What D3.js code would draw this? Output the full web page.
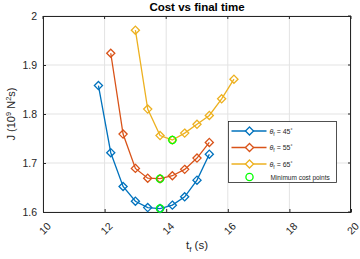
<!DOCTYPE html>
<html>
<head>
<meta charset="utf-8">
<script src="https://cdn.jsdelivr.net/npm/d3@7"></script>
<style>
  body { margin: 0; background: #fff; }
  text { font-family: "Liberation Sans", Arial, sans-serif; fill: #262626; }
</style>
</head>
<body>
<svg width="360" height="259"></svg>
<script>
var svg = d3.select('svg');
var padding = { t: 16, r: 9, b: 47, l: 43 };
var chartWidth = 360 - padding.l - padding.r;
var chartHeight = 259 - padding.t - padding.b;

// data
var tf45 = [11.8, 12.2, 12.6, 13.0, 13.4, 13.8, 14.2, 14.6, 15.0, 15.4];
var J45 = [1.858, 1.721, 1.652, 1.622, 1.609, 1.607, 1.614, 1.631, 1.665, 1.718];
var tf55 = [12.2, 12.6, 13.0, 13.4, 13.8, 14.2, 14.6, 15.0, 15.4];
var J55 = [1.924, 1.759, 1.689, 1.669, 1.668, 1.674, 1.687, 1.710, 1.742];
var tf65 = [13.0, 13.4, 13.8, 14.2, 14.6, 15.0, 15.4, 15.8, 16.2];
var J65 = [1.971, 1.810, 1.756, 1.747, 1.761, 1.779, 1.797, 1.831, 1.871];
var minTf = [13.8, 13.8, 14.2];
var minJ = [1.607, 1.668, 1.747];
var xTicks = [10, 12, 14, 16, 18, 20];
var yTicks = [1.6, 1.7, 1.8, 1.9, 2];
var seriesNames = ['45', '55', '65'];
var colors = ['#0072BD', '#D95319', '#EDB120'];

var xScale = d3.scaleLinear().domain([10, 20]).range([0, chartWidth]);
var yScale = d3.scaleLinear().domain([1.6, 2]).range([chartHeight, 0]);

var chartG = svg.append('g')
  .attr('transform', 'translate(' + [padding.l, padding.t] + ')');

// grid
chartG.selectAll('.gx').data(xTicks).enter().append('line')
  .attr('x1', d => xScale(d)).attr('x2', d => xScale(d))
  .attr('y1', 0).attr('y2', chartHeight)
  .style('stroke', '#e3e3e3').style('stroke-width', 1);
chartG.selectAll('.gy').data(yTicks).enter().append('line')
  .attr('y1', d => yScale(d)).attr('y2', d => yScale(d))
  .attr('x1', 0).attr('x2', chartWidth)
  .style('stroke', '#e3e3e3').style('stroke-width', 1);

// axes
var xAxisG = chartG.append('g')
  .attr('transform', 'translate(0,' + chartHeight + ')')
  .call(d3.axisBottom(xScale).tickValues(xTicks).tickSizeInner(-3).tickSizeOuter(0).tickFormat(d3.format('d')));
xAxisG.selectAll('text')
  .attr('transform', 'translate(1.5,16.5) rotate(-45)')
  .attr('text-anchor', 'middle')
  .attr('x', 0).attr('y', 0).attr('dy', '0.35em');
var yAxisG = chartG.append('g')
  .call(d3.axisLeft(yScale).tickValues(yTicks).tickSizeInner(-3).tickSizeOuter(0).tickFormat(d => d3.format('')(d)));
yAxisG.selectAll('text').attr('x', -6);
[xAxisG, yAxisG].forEach(function(g) {
  g.select('.domain').style('stroke', '#262626');
  g.selectAll('.tick line').style('stroke', '#262626');
  g.selectAll('text').style('font-size', '10.5px').style('fill', '#262626')
    .style('font-family', '"Liberation Sans", Arial, sans-serif');
});
// box
chartG.append('line').attr('x1', 0).attr('x2', chartWidth).attr('y1', 0.5).attr('y2', 0.5)
  .style('stroke', '#262626');
chartG.append('line').attr('x1', chartWidth - 0.5).attr('x2', chartWidth - 0.5).attr('y1', 0).attr('y2', chartHeight)
  .style('stroke', '#262626');
xTicks.forEach(function(t) {
  chartG.append('line').attr('x1', xScale(t)).attr('x2', xScale(t)).attr('y1', 0).attr('y2', 3)
    .style('stroke', '#262626');
});
yTicks.forEach(function(t) {
  chartG.append('line').attr('x1', chartWidth).attr('x2', chartWidth - 3).attr('y1', yScale(t)).attr('y2', yScale(t))
    .style('stroke', '#262626');
});

// series
var series = [
  { tf: tf45, J: J45 },
  { tf: tf55, J: J55 },
  { tf: tf65, J: J65 }
];
var line = d3.line().x(d => xScale(d[0])).y(d => yScale(d[1]));
var diamond = d3.symbol().type(d3.symbolDiamond2).size(42);
series.forEach(function(s, i) {
  var pts = s.tf.map((t, k) => [t, s.J[k]]);
  chartG.append('path').datum(pts)
    .attr('d', line)
    .style('fill', 'none').style('stroke', colors[i]).style('stroke-width', 1.3);
  chartG.selectAll('.m' + i).data(pts).enter().append('path')
    .attr('d', diamond)
    .attr('transform', d => 'translate(' + [xScale(d[0]), yScale(d[1])] + ')')
    .style('fill', 'none').style('stroke', colors[i]).style('stroke-width', 1.3);
});
chartG.selectAll('.minpt').data(minTf).enter().append('circle')
  .attr('cx', d => xScale(d))
  .attr('cy', (d, i) => yScale(minJ[i]))
  .attr('r', 3.6)
  .style('fill', 'none').style('stroke', '#00FF00').style('stroke-width', 1.3);

// title and labels
svg.append('text').text('Cost vs final time')
  .attr('x', padding.l + chartWidth / 2).attr('y', 10.5)
  .attr('text-anchor', 'middle')
  .style('font-size', '11.5px').style('font-weight', 'bold').style('fill', '#000');

var xl = svg.append('text')
  .attr('x', padding.l + chartWidth / 2).attr('y', 249)
  .attr('text-anchor', 'middle').style('font-size', '11.5px');
xl.append('tspan').text('t');
xl.append('tspan').text('f').attr('dy', 3).style('font-size', '8px');
xl.append('tspan').text(' (s)').attr('dy', -3);

var yl = svg.append('text')
  .attr('transform', 'translate(15,' + (padding.t + chartHeight / 2) + ') rotate(-90)')
  .attr('text-anchor', 'middle').style('font-size', '11px');
yl.append('tspan').text('J (10');
yl.append('tspan').text('9').attr('dy', -4).style('font-size', '7.5px');
yl.append('tspan').text(' N').attr('dy', 4);
yl.append('tspan').text('2').attr('dy', -4).style('font-size', '7.5px');
yl.append('tspan').text('s)').attr('dy', 4);

// legend
var legG = svg.append('g').attr('transform', 'translate(228.5,121.5)');
legG.append('rect').attr('width', 108).attr('height', 61)
  .style('fill', '#fff').style('stroke', '#262626').style('stroke-width', 0.8);
seriesNames.forEach(function(name, i) {
  var y = 9.5 + i * 16.5;
  legG.append('line').attr('x1', 3).attr('x2', 38).attr('y1', y).attr('y2', y)
    .style('stroke', colors[i]).style('stroke-width', 1.3);
  legG.append('path').attr('d', diamond)
    .attr('transform', 'translate(' + [21, y] + ')')
    .style('fill', '#fff').style('stroke', colors[i]).style('stroke-width', 1.3);
  var t = legG.append('text').attr('x', 41).attr('y', y + 2.5).style('font-size', '7px');
  t.append('tspan').text('\u03B8').style('font-style', 'italic');
  t.append('tspan').text('f').attr('dy', 2).style('font-size', '5px');
  t.append('tspan').text(' = ' + name).attr('dy', -2);
  t.append('tspan').text('\u00B0').attr('dy', -2).style('font-size', '5px');
});
legG.append('circle').attr('cx', 21).attr('cy', 55.5).attr('r', 3.6)
  .style('fill', 'none').style('stroke', '#00FF00').style('stroke-width', 1.3);
legG.append('text').text('Minimum cost points').attr('x', 42).attr('y', 58)
  .style('font-size', '6.5px');
</script>
</body>
</html>
